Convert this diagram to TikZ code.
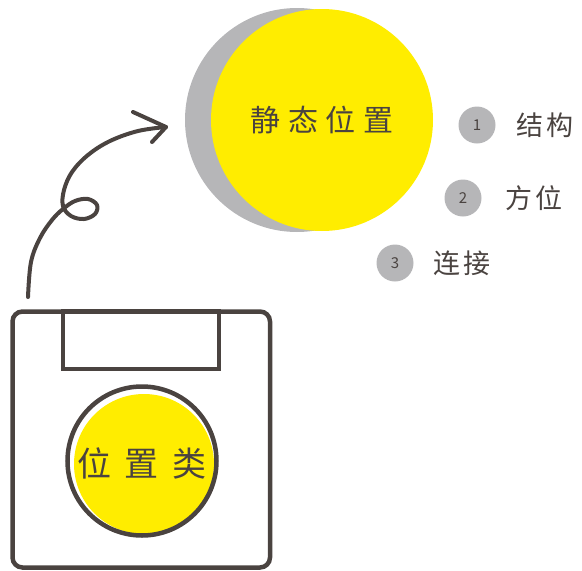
\documentclass[tikz,border=0pt]{standalone}
\usepackage{fontspec}
\newfontfamily\hand[LetterSpace=25]{Noto Sans CJK SC}
\newfontfamily\handwide[LetterSpace=40]{Noto Sans CJK SC}
\newfontfamily\handtight[LetterSpace=10]{Noto Sans CJK SC}
\usetikzlibrary{positioning}
\definecolor{ink}{HTML}{4A4340}
\definecolor{greydisc}{HTML}{B6B6B8}
\definecolor{sun}{HTML}{FFED00}

\tikzset{
  badge/.style={circle, fill=greydisc, minimum size=37pt, inner sep=0pt, text=ink, font=\handtight\fontsize{15}{15}\selectfont},
  tag/.style={text=ink, inner sep=0pt, font=\handtight\fontsize{27}{27}\selectfont}
}

\begin{document}
\begin{tikzpicture}[x=1pt, y=-1pt]
    \useasboundingbox (0,0) rectangle (582,571);

    % static position disc with its shadow
    \fill[greydisc] (297,120) circle (112);
    \node[circle, fill=sun, minimum size=222pt, inner sep=0pt, text=ink,
          font=\hand\fontsize{30}{30}\selectfont] (static) at (322,120) {静态位置};

    % numbered points
    \node[badge] (n1) at (477,125) {1};
    \node[badge] (n2) at (463,198) {2};
    \node[badge] (n3) at (395,263) {3};
    \node[tag, right=21pt of n1] (l1) {结构};
    \node[tag, right=24pt of n2] (l2) {方位};
    \node[tag, right=20pt of n3] (l3) {连接};

    % the floppy box
    \draw[ink, line width=4.5pt, rounded corners=10pt] (12.5,311.5) rectangle (270,567.5);
    \draw[ink, line width=4.5pt] (63,311.5) rectangle (219,369);
    \fill[sun] (144,464) circle (70);
    \draw[ink, line width=4.5pt] (142,461) circle (74.5);
    \node[text=ink, inner sep=0pt, font=\handwide\fontsize{34}{34}\selectfont] (kind) at (142,463) {位置类};

    % hand drawn arrow
    \coordinate (from) at (28,297);
    \coordinate (to) at (166,127);
    \draw[ink, line width=4pt, line cap=round, line join=round] plot[smooth, tension=0.6] coordinates {
      (from) (31,262) (40,238) (52,220) (63,209) (75,201) (88,199) (97,205) (95,214)
      (84,219) (71,216) (63,206) (64,190) (72,172) (88,155) (110,141) (138,131) (to)};
    \draw[ink, line width=4pt, line cap=round, line join=round] (133,112) -- (to) -- (152,142);
\end{tikzpicture}
\end{document}
